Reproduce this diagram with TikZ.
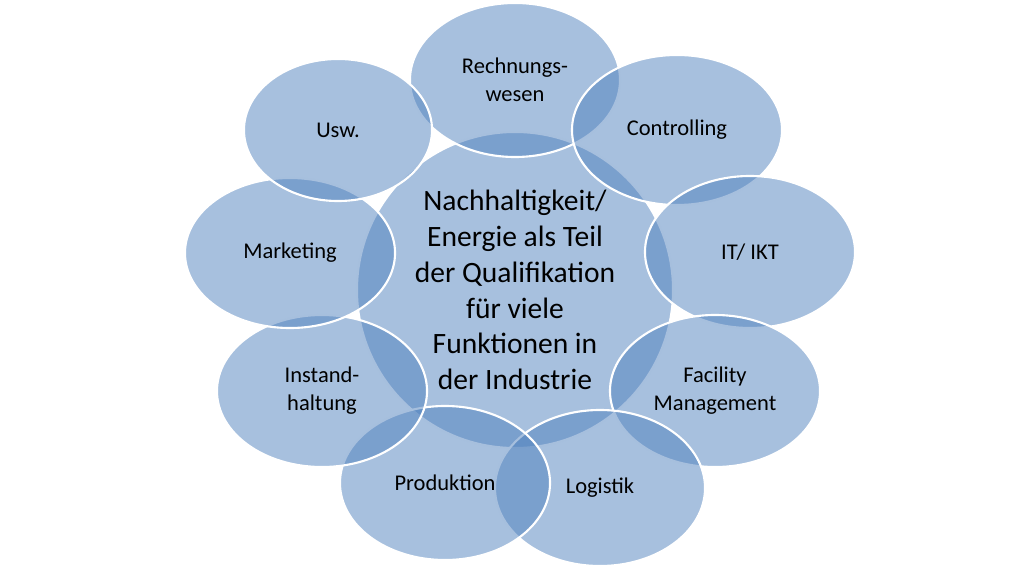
\documentclass[tikz,border=0pt]{standalone}
\usepackage{fontspec}
\setmainfont{Carlito}
\usetikzlibrary{shapes.geometric}
\definecolor{bubble}{RGB}{79,129,189}
\tikzset{
  bubble/.style={ellipse,draw=white,line width=1.5pt,fill=bubble,fill opacity=0.5,
    text opacity=1,minimum width=#1,align=center,font=\fontsize{16}{20}\selectfont},
  bubble/.default={5.25cm},
}
\begin{document}
\begin{tikzpicture}[x=0.025cm,y=-0.025cm]
\useasboundingbox (0,0) rectangle (1024,576);

\node[bubble=7.9cm,circle,font=\fontsize{21}{25.5}\selectfont] (center) at (515,290) {Nachhaltigkeit/\\Energie als Teil\\der Qualifikation\\für viele\\Funktionen in\\der Industrie};

\node[bubble,minimum height=3.85cm] (rewe) at (515,80) {Rechnungs-\\wesen};
\node[bubble,minimum height=3.75cm] (contr) at (677,130) {Controlling};
\node[bubble,minimum height=3.8cm] (it) at (750,252) {IT/ IKT};
\node[bubble,minimum height=3.8cm] (fm) at (715,391) {Facility\\Management};
\node[bubble,minimum height=3.9cm] (log) at (600,488) {Logistik};
\node[bubble,minimum height=3.85cm] (prod) at (445,483) {Produktion};
\node[bubble,minimum height=3.8cm] (inst) at (322,391) {Instand-\\haltung};
\node[bubble,minimum height=3.75cm] (mark) at (290,253) {Marketing};
\node[bubble=4.7cm,minimum height=3.55cm] (usw) at (338,130) {Usw.};
\end{tikzpicture}
\end{document}
